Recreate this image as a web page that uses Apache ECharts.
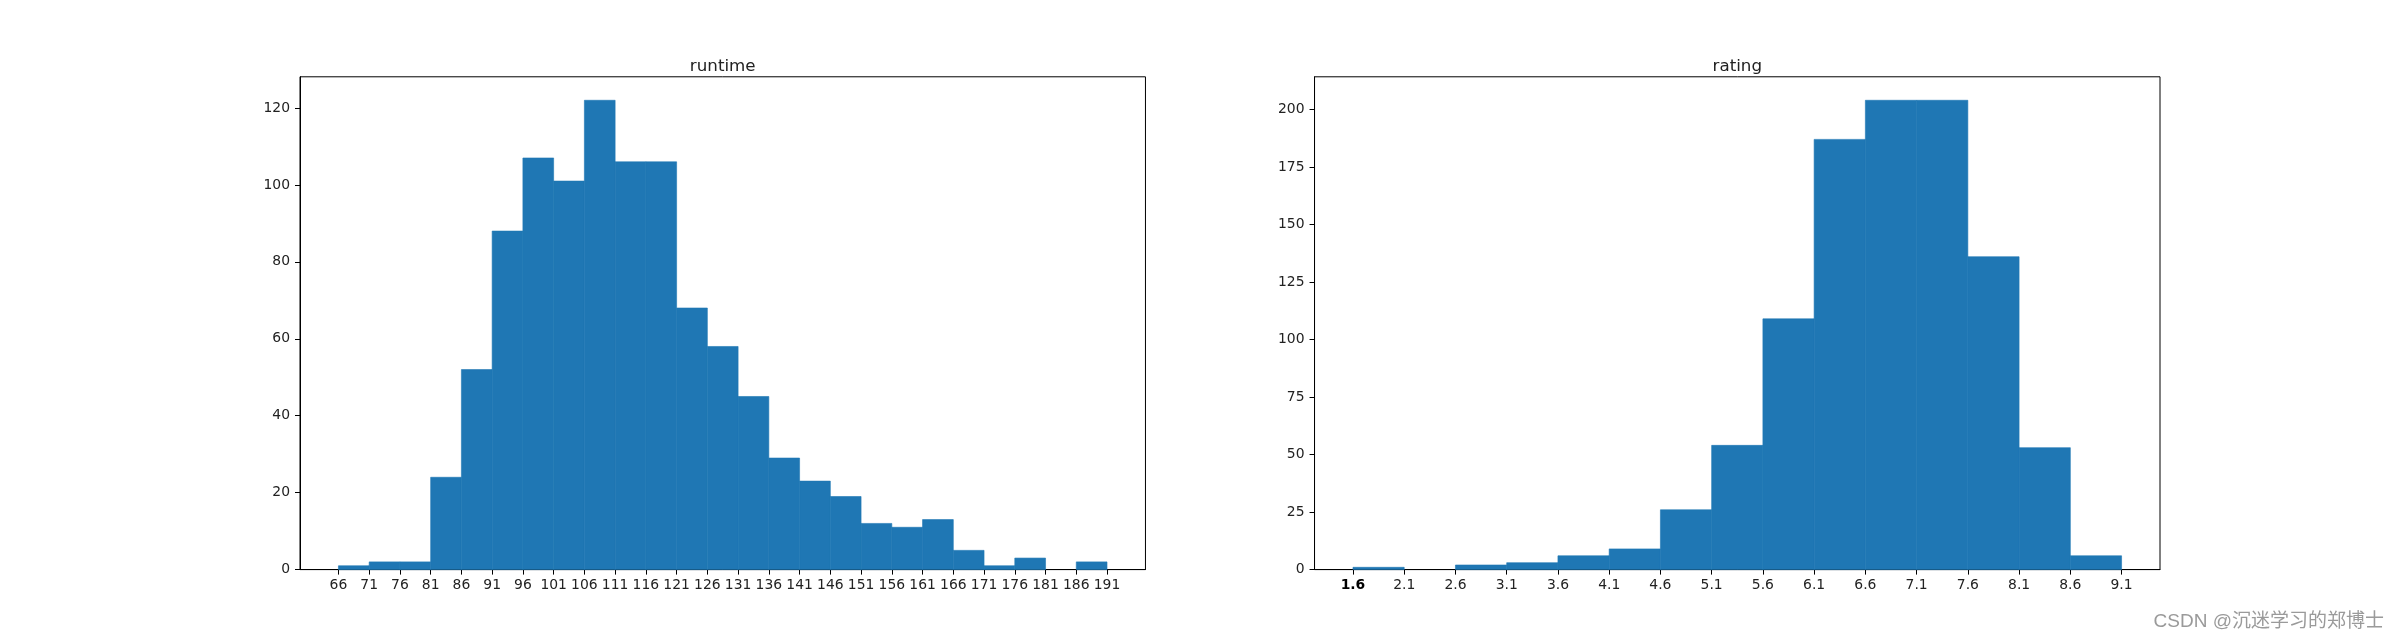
<!DOCTYPE html>
<html>
<head>
<meta charset="utf-8">
<script src="https://cdn.jsdelivr.net/npm/echarts@6/dist/echarts.min.js"></script>
<style>
  html, body { margin: 0; padding: 0; background: #fff; }
  #chart { width: 2400px; height: 640px; }
</style>
</head>
<body>
<div id="chart"></div>
<script>
// runtime histogram: bin edges (also the tick labels) and counts
const runtimeEdges = [66, 71, 76, 81, 86, 91, 96, 101, 106, 111, 116, 121, 126, 131, 136, 141, 146, 151, 156, 161, 166, 171, 176, 181, 186, 191];
const runtimeCounts = [1, 2, 2, 24, 52, 88, 107, 101, 122, 106, 106, 68, 58, 45, 29, 23, 19, 12, 11, 13, 5, 1, 3, 0, 2];
const runtimeYTicks = [0, 20, 40, 60, 80, 100, 120];

// rating histogram
const ratingEdges = [1.6, 2.1, 2.6, 3.1, 3.6, 4.1, 4.6, 5.1, 5.6, 6.1, 6.6, 7.1, 7.6, 8.1, 8.6, 9.1];
const ratingCounts = [1, 0, 2, 3, 6, 9, 26, 54, 109, 187, 204, 204, 136, 53, 6];
const ratingYTicks = [0, 25, 50, 75, 100, 125, 150, 175, 200];

const titles = ["runtime", "rating"];
const watermark = "CSDN @沉迷学习的郑博士";

const BAR = "#1f77b4";
const FONT = "DejaVu Sans";

// matplotlib default subplot layout on a 2400x640 figure
const axW = 1860 / 2.2;
const axL = [300, 300 + axW * 1.2];
const axTop = 76.8;
const axH = 640 * 0.77;

function binData(edges, counts) {
    return counts.map((c, i) => [edges[i], edges[i + 1], c]);
}

// histogram bars drawn from bin edges through the axis scales
function renderBin(params, api) {
    if (!api.value(2)) return null; // empty bin, nothing drawn
    const p0 = api.coord([api.value(0), api.value(2)]);
    const p1 = api.coord([api.value(1), 0]);
    return {
        type: "rect",
        shape: { x: p0[0], y: p0[1], width: p1[0] - p0[0], height: p1[1] - p0[1] },
        style: { fill: BAR, stroke: BAR, lineWidth: 0.6 }
    };
}

function xAxisFor(i, edges, fmt, rich) {
    const span = edges[edges.length - 1] - edges[0];
    return {
        type: "value",
        gridIndex: i,
        min: edges[0] - span * 0.05,
        max: edges[edges.length - 1] + span * 0.05,
        axisLine: { show: true, onZero: false, lineStyle: { color: "#000", width: 1 } },
        axisTick: { show: true, inside: false, length: 5, customValues: edges, lineStyle: { color: "#000", width: 1 } },
        axisLabel: {
            show: true, customValues: edges, margin: 9, color: "#222",
            fontFamily: FONT, fontSize: 13.9, formatter: fmt, rich: rich
        },
        splitLine: { show: false }
    };
}

function yAxisFor(i, ticks, max) {
    return {
        type: "value",
        gridIndex: i,
        min: 0,
        max: max,
        axisLine: { show: true, lineStyle: { color: "#000", width: 1 } },
        axisTick: { show: true, inside: false, length: 5, customValues: ticks, lineStyle: { color: "#000", width: 1 } },
        axisLabel: { show: true, customValues: ticks, margin: 10, color: "#222", fontFamily: FONT, fontSize: 13.9 },
        splitLine: { show: false }
    };
}

const chart = echarts.init(document.getElementById("chart"), null, { renderer: "canvas" });

const option = {
    backgroundColor: "#fff",
    animation: false,
    title: titles.map((t, i) => ({
        text: t,
        left: axL[i] + axW / 2,
        textAlign: "center",
        top: 58,
        padding: 0,
        textStyle: { fontFamily: FONT, fontSize: 16.7, fontWeight: "normal", color: "#222" }
    })),
    grid: axL.map((l) => ({
        left: l, top: axTop, width: axW, height: axH,
        show: true, borderColor: "#000", borderWidth: 1, backgroundColor: "transparent"
    })),
    xAxis: [
        xAxisFor(0, runtimeEdges, (v) => String(v)),
        xAxisFor(1, ratingEdges,
            (v) => (Math.abs(v - ratingEdges[0]) < 1e-9 ? "{b|" + v.toFixed(1) + "}" : v.toFixed(1)),
            { b: { fontWeight: "bold", color: "#000", fontFamily: FONT, fontSize: 13.9 } })
    ],
    yAxis: [
        yAxisFor(0, runtimeYTicks, Math.max(...runtimeCounts) * 1.05),
        yAxisFor(1, ratingYTicks, Math.max(...ratingCounts) * 1.05)
    ],
    series: [
        {
            type: "custom", xAxisIndex: 0, yAxisIndex: 0,
            renderItem: renderBin, data: binData(runtimeEdges, runtimeCounts),
            encode: { x: [0, 1], y: 2 }, silent: true
        },
        {
            type: "custom", xAxisIndex: 1, yAxisIndex: 1,
            renderItem: renderBin, data: binData(ratingEdges, ratingCounts),
            encode: { x: [0, 1], y: 2 }, silent: true
        }
    ],
    graphic: [
        {
            type: "text",
            right: 16,
            bottom: 9,
            style: {
                text: watermark,
                fill: "#9a9a9a",
                font: '19px "Liberation Sans", "Noto Sans CJK SC", sans-serif'
            }
        }
    ]
};

chart.setOption(option);
</script>
</body>
</html>
